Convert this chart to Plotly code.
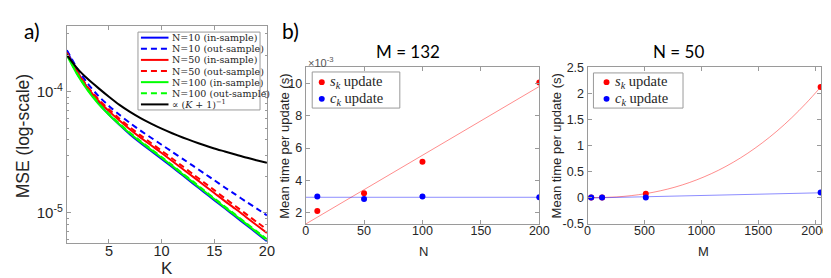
import plotly.graph_objects as go

# ---------------- data: panel a ----------------
K = list(range(1, 21))
mse_n10_in = [2.18e-4, 1.46e-4, 1.06e-4, 8.10e-5, 6.46e-5, 5.32e-5, 4.43e-5, 3.77e-5, 3.24e-5, 2.79e-5,
              2.39e-5, 2.04e-5, 1.74e-5, 1.49e-5, 1.27e-5, 1.09e-5, 9.34e-6, 7.98e-6, 6.83e-6, 5.84e-6]
mse_n10_out = [2.20e-4, 1.55e-4, 1.16e-4, 9.21e-5, 7.62e-5, 6.44e-5, 5.51e-5, 4.77e-5, 4.17e-5, 3.65e-5,
               3.19e-5, 2.79e-5, 2.44e-5, 2.13e-5, 1.86e-5, 1.62e-5, 1.42e-5, 1.24e-5, 1.09e-5, 9.53e-6]
mse_n50_in = [2.08e-4, 1.44e-4, 1.07e-4, 8.42e-5, 6.91e-5, 5.77e-5, 4.88e-5, 4.18e-5, 3.61e-5, 3.12e-5,
              2.68e-5, 2.30e-5, 1.98e-5, 1.70e-5, 1.46e-5, 1.25e-5, 1.08e-5, 9.25e-6, 7.94e-6, 6.82e-6]
mse_n50_out = [2.10e-4, 1.46e-4, 1.09e-4, 8.65e-5, 7.15e-5, 5.99e-5, 5.08e-5, 4.36e-5, 3.77e-5, 3.26e-5,
               2.81e-5, 2.42e-5, 2.08e-5, 1.79e-5, 1.54e-5, 1.32e-5, 1.14e-5, 9.80e-6, 8.44e-6, 7.28e-6]
mse_n100_in = [2.00e-4, 1.38e-4, 1.02e-4, 7.94e-5, 6.46e-5, 5.37e-5, 4.52e-5, 3.85e-5, 3.31e-5, 2.85e-5,
               2.44e-5, 2.08e-5, 1.78e-5, 1.52e-5, 1.30e-5, 1.11e-5, 9.53e-6, 8.15e-6, 6.97e-6, 5.96e-6]
mse_n100_out = [2.03e-4, 1.40e-4, 1.035e-4, 8.06e-5, 6.56e-5, 5.45e-5, 4.59e-5, 3.91e-5, 3.36e-5, 2.89e-5,
                2.48e-5, 2.11e-5, 1.81e-5, 1.54e-5, 1.32e-5, 1.13e-5, 9.67e-6, 8.27e-6, 7.07e-6, 6.05e-6]
ref_rate = [2.01e-4, 1.55e-4, 1.27e-4, 1.07e-4, 9.08e-5, 7.78e-5, 6.81e-5, 6.05e-5, 5.45e-5, 4.95e-5,
            4.54e-5, 4.19e-5, 3.89e-5, 3.63e-5, 3.40e-5, 3.21e-5, 3.03e-5, 2.86e-5, 2.72e-5, 2.59e-5]

# ---------------- data: panel b (M = 132) ----------------
N_vals = [10, 50, 100, 200]
s_time_N = [2.1e-3, 3.2e-3, 5.15e-3, 10.05e-3]
c_time_N = [3.0e-3, 2.85e-3, 3.0e-3, 2.95e-3]
N_fit = [0, 200]
s_fit_N = [1.29e-3, 9.81e-3]
c_fit_N = [2.95e-3, 2.95e-3]

# ---------------- data: panel b (N = 50) ----------------
M_vals = [32, 128, 512, 2048]
s_time_M = [0.005, 0.006, 0.08, 2.12]
c_time_M = [0.005, 0.005, 0.005, 0.10]
M_fit = [0, 128, 256, 384, 512, 640, 768, 896, 1024, 1152, 1280, 1408, 1536, 1664, 1792, 1920, 2048]
s_fit_M = [0.006, 0.006, 0.017, 0.042, 0.08, 0.134, 0.204, 0.293, 0.401, 0.529, 0.680, 0.854,
           1.053, 1.277, 1.529, 1.810, 2.12]
M_fit_c = [0, 2048]
c_fit_M = [-0.005, 0.096]

W, H = 831, 278
def px(x):
    return x / W
def py(y):
    return 1 - y / H

BLUE, RED, GREEN = "#0000ff", "#ff0000", "#00ff00"
AXC = "#9a9a9a"
TXT = "#262626"
SANS = "Liberation Sans"
SERIF = "Liberation Serif"
LEGSERIF = "DejaVu Serif"
CAL = "Lato"

series_a = [
    ("N=10 (in-sample)", mse_n10_in, BLUE, "solid"),
    ("N=10 (out-sample)", mse_n10_out, BLUE, "6px,4px"),
    ("N=50 (in-sample)", mse_n50_in, RED, "solid"),
    ("N=50 (out-sample)", mse_n50_out, RED, "6px,4px"),
    ("N=100 (in-sample)", mse_n100_in, GREEN, "solid"),
    ("N=100 (out-sample)", mse_n100_out, GREEN, "6px,4px"),
    ("\u221d (<i>K</i> + 1)<sup>\u22121</sup>", ref_rate, "#000000", "solid"),
]

fig = go.Figure()
for name, vals, col, dash in series_a:
    fig.add_trace(go.Scatter(x=K, y=vals, mode="lines", name=name, showlegend=False, line_shape="spline",
                             line=dict(color=col, width=2, dash=dash, smoothing=0.6), xaxis="x", yaxis="y"))

fig.add_trace(go.Scatter(x=N_fit, y=s_fit_N, mode="lines", showlegend=False,
                         line=dict(color="rgba(255,0,0,0.45)", width=1), xaxis="x2", yaxis="y2"))
fig.add_trace(go.Scatter(x=N_fit, y=c_fit_N, mode="lines", showlegend=False,
                         line=dict(color="rgba(0,0,255,0.45)", width=1), xaxis="x2", yaxis="y2"))
fig.add_trace(go.Scatter(x=N_vals, y=s_time_N, mode="markers", showlegend=False,
                         marker=dict(color=RED, size=6), xaxis="x2", yaxis="y2"))
fig.add_trace(go.Scatter(x=N_vals, y=c_time_N, mode="markers", showlegend=False,
                         marker=dict(color=BLUE, size=6), xaxis="x2", yaxis="y2"))

fig.add_trace(go.Scatter(x=M_fit, y=s_fit_M, mode="lines", showlegend=False, line_shape="spline",
                         line=dict(color="rgba(255,0,0,0.45)", width=1), xaxis="x3", yaxis="y3"))
fig.add_trace(go.Scatter(x=M_fit_c, y=c_fit_M, mode="lines", showlegend=False,
                         line=dict(color="rgba(0,0,255,0.45)", width=1), xaxis="x3", yaxis="y3"))
fig.add_trace(go.Scatter(x=M_vals, y=s_time_M, mode="markers", showlegend=False,
                         marker=dict(color=RED, size=6), xaxis="x3", yaxis="y3"))
fig.add_trace(go.Scatter(x=M_vals, y=c_time_M, mode="markers", showlegend=False,
                         marker=dict(color=BLUE, size=6), xaxis="x3", yaxis="y3"))

def ax_common(size):
    return dict(showline=True, linecolor=AXC, linewidth=1, mirror="ticks", ticks="inside",
                ticklen=4, tickcolor=AXC, showgrid=False, zeroline=False,
                tickfont=dict(family=SANS, size=size, color=TXT))

fig.update_layout(
    width=W, height=H, margin=dict(l=0, r=0, t=0, b=0),
    paper_bgcolor="white", plot_bgcolor="white",
    xaxis=dict(domain=[px(56.7), px(260)], anchor="y", range=[1, 20], ticklabelstandoff=-5,
               tickmode="array", tickvals=[5, 10, 15, 20], **ax_common(14.5)),
    yaxis=dict(domain=[py(240), py(11.7)], anchor="x", type="log", range=[-5.248, -3.459],
               tickmode="array", tickvals=[1e-5, 1e-4],
               ticktext=["10<sup>-5</sup>", "10<sup>-4</sup>"],
               minor=dict(ticks="inside", ticklen=2, tickcolor=AXC, tickmode="array",
                          tickvals=[6e-6, 7e-6, 8e-6, 9e-6, 2e-5, 3e-5, 4e-5, 5e-5, 6e-5, 7e-5,
                                    8e-5, 9e-5, 2e-4, 3e-4]),
               **ax_common(15)),
    xaxis2=dict(domain=[px(299.3), px(536.7)], anchor="y2", range=[0, 200], ticklabelstandoff=-5,
                tickmode="array", tickvals=[0, 50, 100, 150, 200], **ax_common(12.5)),
    yaxis2=dict(domain=[py(220), py(55)], anchor="x2", range=[0.0013, 0.011],
                tickmode="array", tickvals=[0.002, 0.004, 0.006, 0.008, 0.010],
                ticktext=["2", "4", "6", "8", "10"], **ax_common(12.5)),
    xaxis3=dict(domain=[px(585.7), px(823.3)], anchor="y3", range=[0, 2055], ticklabelstandoff=-5,
                tickmode="array", tickvals=[0, 500, 1000, 1500, 2000], **ax_common(12.5)),
    yaxis3=dict(domain=[py(220), py(55)], anchor="x3", range=[-0.5, 2.5],
                tickmode="array", tickvals=[-0.5, 0, 0.5, 1, 1.5, 2, 2.5],
                ticktext=["-0.5", "0", "0.5", "1", "1.5", "2", "2.5"], **ax_common(12.5)),
)

ann = []
shapes = []
def text(x, y, s, size, family=SANS, color=TXT, angle=0, xanchor="center", yanchor="middle"):
    ann.append(dict(x=px(x), y=py(y), xref="paper", yref="paper", text=s, showarrow=False,
                    textangle=angle, xanchor=xanchor, yanchor=yanchor,
                    font=dict(family=family, size=size, color=color)))

# panel labels / titles
text(21, 16, "a)", 21, family=CAL, color="#000000")
text(284, 16, "b)", 21, family=CAL, color="#000000")
text(403, 38, "M = 132", 17, family=CAL, color="#000000")
text(678, 38, "N = 50", 17, family=CAL, color="#000000")
text(12, 128, "MSE (log-scale)", 17.5, angle=-90)
text(158, 267, "K", 17)
text(277, 138, "Mean time per update (s)", 13, angle=-90)
text(554, 138, "Mean time per update (s)", 13, angle=-90)
text(419, 249, "N", 13)
text(703, 249, "M", 13)
text(300, 49, "\u00d710<sup>-3</sup>", 11, color="#555555", xanchor="left")

# legend of panel a (drawn box + samples)
shapes.append(dict(type="rect", xref="paper", yref="paper", x0=px(129), x1=px(253), y0=py(100), y1=py(18),
                   line=dict(color=AXC, width=1), fillcolor="white", layer="above"))
for i, (name, vals, col, dash) in enumerate(series_a):
    yc = 18 + 82 / 7 * (i + 0.5)
    shapes.append(dict(type="line", xref="paper", yref="paper", x0=px(132), x1=px(160), y0=py(yc), y1=py(yc),
                       line=dict(color=col, width=2, dash=dash), layer="above"))
    text(162, yc, name, 9.5, family=LEGSERIF, color=TXT, xanchor="left")

# legends of panel b
def b_legend(x0, x1, y0, y1, mx, tx, ys):
    shapes.append(dict(type="rect", xref="paper", yref="paper", x0=px(x0), x1=px(x1), y0=py(y1), y1=py(y0),
                       line=dict(color=AXC, width=1), fillcolor="white", layer="above"))
    labels = [("<i>s</i><sub><i>k</i></sub> update", RED), ("<i>c</i><sub><i>k</i></sub> update", BLUE)]
    for (lab, col), yc in zip(labels, ys):
        shapes.append(dict(type="circle", xref="paper", yref="paper", x0=px(mx - 3), x1=px(mx + 3),
                           y0=py(yc + 3), y1=py(yc - 3), fillcolor=col, line=dict(color=col, width=0),
                           layer="above"))
        text(tx, yc, lab, 14.5, family=SERIF, color=TXT, xanchor="left")

b_legend(306, 395, 60, 98, 315.7, 322, [70.7, 88.3])
b_legend(591.7, 682.7, 61, 98, 605, 611.5, [70.7, 88.3])

fig.update_layout(annotations=ann, shapes=shapes)
fig.write_html("out.html")
